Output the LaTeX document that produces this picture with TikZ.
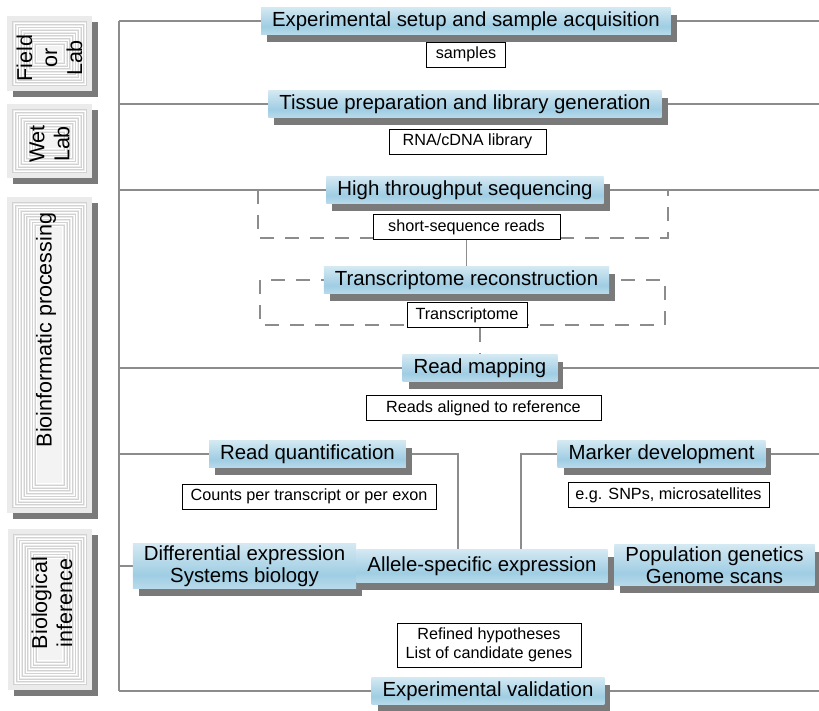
\documentclass[tikz,border=0pt]{standalone}
\usepackage{fontspec}
\setmainfont{Liberation Sans}
\usepackage{tikz}
\usetikzlibrary{positioning, calc, shadows, backgrounds}

\definecolor{stepblue}{HTML}{9FCDE3}
\definecolor{framegray}{HTML}{8C8C8C}
\definecolor{shadowgray}{HTML}{7A7A7A}
\definecolor{sidegray}{HTML}{EBEBEB}
\definecolor{ringgray}{HTML}{D2D2D2}

\pgfdeclareverticalshading{stepshade}{100bp}{color(0bp)=(white); color(12bp)=(white!50!stepblue); color(40bp)=(stepblue); color(75bp)=(white!55!stepblue); color(100bp)=(white)}

\begin{document}
\begin{tikzpicture}[
    x=1pt, y=-1pt,
    stepbox/.style={rectangle, shade, shading=stepshade, inner xsep=11pt, inner ysep=2pt, minimum height=27pt, align=center,
        font=\fontsize{20.4}{22}\selectfont,
        general shadow={fill=shadowgray, shadow xshift=6pt, shadow yshift=-7pt}},
    result/.style={rectangle, draw=black, line width=0.9pt, fill=white, minimum height=25pt, inner sep=2pt, align=center,
        font=\fontsize{16.2}{19}\selectfont},
    sidebox/.style={rectangle, fill=sidegray, inner sep=0pt,
        general shadow={fill=shadowgray, shadow xshift=6pt, shadow yshift=-6pt},
        path picture={
            \foreach \k in {2,...,10}{
                \draw[line width=0.6pt, ringgray] ($(path picture bounding box.south west)+(\k*2.8pt,\k*2.8pt)$) rectangle ($(path picture bounding box.north east)-(\k*2.8pt,\k*2.8pt)$);
                \draw[line width=0.6pt, white] ($(path picture bounding box.south west)+(\k*2.8pt+1.4pt,\k*2.8pt+1.4pt)$) rectangle ($(path picture bounding box.north east)-(\k*2.8pt+1.4pt,\k*2.8pt+1.4pt)$);
            }
            \fill[white!40!sidegray] ($(path picture bounding box.south west)+(30pt,30pt)$) rectangle ($(path picture bounding box.north east)-(30pt,30pt)$);
            }},
    sidetext/.style={rotate=90, align=center, font=\fontsize{21.5}{25}\selectfont},
    frame/.style={draw=framegray, line width=1.4pt},
    dashframe/.style={draw=framegray, line width=1.3pt, dash pattern=on 14pt off 11pt}
]
\useasboundingbox (0,0) rectangle (819,710);

% side panels
\node[sidebox, minimum width=85pt, minimum height=75pt] (field) at (49.5,53.5) {};
\node[sidebox, minimum width=85pt, minimum height=74pt] (wet) at (49.5,141) {};
\node[sidebox, minimum width=85pt, minimum height=316pt] (bioinf) at (49.5,355) {};
\node[sidebox, minimum width=84pt, minimum height=161pt] (biology) at (50,609.5) {};
\node[sidetext] (fieldtxt) at (49.5,58) {Field\\or\\Lab};
\node[sidetext] (wettxt) at (49.5,144) {Wet\\Lab};
\node[sidetext] (bioinftxt) at (46,330) {Bioinformatic processing};
\node[sidetext] (biologytxt) at (52,603) {Biological\\inference};

% frame ends
\coordinate (fl) at (119,0);
\coordinate (fr) at (819,0);
\coordinate (qturn) at (458,454);
\coordinate (mturn) at (521,454);

% steps
\node[stepbox] (setup) at (466,21) {Experimental setup and sample acquisition};
\node[result, minimum width=79pt, below=7pt of setup] (samples) {samples};
\node[stepbox] (tissue) at (465,104) {Tissue preparation and library generation};
\node[result, minimum width=157pt] (library) at (467.5,141.5) {RNA/cDNA library};
\node[stepbox] (seq) at (465,190) {High throughput sequencing};
\node[result, minimum width=187pt] (reads) at (466.5,227) {short-sequence reads};
\node[stepbox] (recon) at (466.5,280) {Transcriptome reconstruction};
\node[result, minimum width=120pt] (tome) at (467,315) {Transcriptome};
\node[stepbox] (mapping) at (480,368) {Read mapping};
\node[result, minimum width=235pt] (aligned) at (483.5,408) {Reads aligned to reference};
\node[stepbox] (quant) at (307.5,454) {Read quantification};
\node[result, minimum width=254pt] (counts) at (309,496.5) {Counts per transcript or per exon};
\node[stepbox] (marker) at (661.5,454) {Marker development};
\node[result, minimum width=201pt] (snps) at (668.5,495) {e.g. SNPs, microsatellites};
\node[stepbox] (diff) at (244.5,566) {Differential expression\\Systems biology};
\node[stepbox, minimum height=33pt] (allele) at (482,566) {Allele-specific expression};
\node[stepbox] (popgen) at (714.5,565) {Population genetics\\Genome scans};
\node[result, minimum width=184pt, minimum height=44pt] (refined) at (489,645) {Refined hypotheses\\List of candidate genes};
\node[stepbox] (valid) at (488,691) {Experimental validation};

\begin{scope}[on background layer]
  \draw[frame] (setup -| fl) -- (valid -| fl);
  \draw[frame] (setup -| fl) -- (setup -| fr);
  \draw[frame] (tissue -| fl) -- (tissue -| fr);
  \draw[frame] (seq -| fl) -- (seq -| fr);
  \draw[frame] (mapping -| fl) -- (mapping -| fr);
  \draw[frame] (quant -| fl) -- (qturn) -- (qturn |- allele.north);
  \draw[frame] (marker -| fr) -- (mturn) -- (mturn |- allele.north);
  \draw[frame] (diff -| fl) -- (diff -| fr);
  \draw[frame] (valid -| fl) -- (valid -| fr);
  \draw[frame] (reads) -- (recon);
  \draw[dashframe] (258,190) rectangle (668,238);
  \draw[dashframe] (260,280) rectangle (665,325);
  \draw[dashframe] (mapping.north |- tome.south) -- (mapping.north);
\end{scope}

\end{tikzpicture}
\end{document}
